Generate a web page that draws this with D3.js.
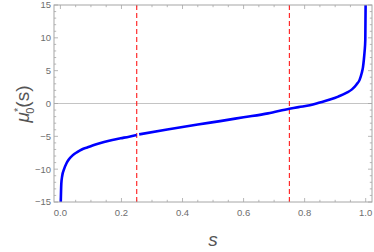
<!DOCTYPE html>
<meta charset="utf-8">
<script src="https://d3js.org/d3.v7.min.js"></script>
<style>
  body { margin:0; background:#fff; }
  text { font-family: "Liberation Sans", Arial, sans-serif; }
</style>
<div id="my_dataviz"></div>
<script>

  // curve, two pieces (small gap at s = 0.25)
  const sLeft  = [0.0012, 0.003, 0.006, 0.012, 0.02, 0.028, 0.04, 0.055, 0.07, 0.088, 0.115, 0.143, 0.17, 0.197, 0.225, 0.25];
  const muLeft = [-15, -12.2, -11, -10, -9.1, -8.5, -7.9, -7.4, -7.0, -6.7, -6.25, -5.86, -5.55, -5.3, -5.05, -4.8];
  const sRight  = [0.258, 0.35, 0.45, 0.523, 0.6, 0.68, 0.75, 0.78, 0.817, 0.85, 0.883, 0.91, 0.938, 0.955, 0.97, 0.98, 0.987, 0.991, 0.994, 0.9965, 0.9987, 0.9997];
  const muRight = [-4.7, -3.95, -3.2, -2.68, -2.1, -1.5, -0.8, -0.55, -0.27, 0.15, 0.6, 1.05, 1.65, 2.15, 2.9, 3.6, 4.65, 5.5, 6.7, 8.0, 9.7, 15];

  const dashedAt = [0.25, 0.75];
  const xTicks = [0, 0.2, 0.4, 0.6, 0.8, 1.0];
  const yTicks = [-15, -10, -5, 0, 5, 10, 15];

  const svgWidth = 374, svgHeight = 252;
  const frame = { left: 54, right: 372, top: 5, bottom: 202 };

  const x = d3.scaleLinear().domain([0, 1]).range([60.4, 365.7]);
  const y = d3.scaleLinear().domain([-15, 15]).range([frame.bottom, frame.top]);

  const svg = d3.select("#my_dataviz")
    .append("svg")
    .attr("width", svgWidth)
    .attr("height", svgHeight);

  svg.append("defs").append("clipPath").attr("id", "clip")
    .append("rect")
    .attr("x", frame.left).attr("y", frame.top)
    .attr("width", frame.right - frame.left)
    .attr("height", frame.bottom - frame.top);

  const frameColor = "#a6a6a6";
  const labelColor = "#6e6e6e";

  // zero line
  svg.append("line")
    .attr("x1", frame.left).attr("x2", frame.right)
    .attr("y1", y(0)).attr("y2", y(0))
    .attr("stroke", "#c4c4c4").attr("stroke-width", 1);

  // ticks on all four sides, pointing inward
  const xMinor = d3.range(0, 1.0001, 0.05);
  const yMinor = d3.range(-15, 15.001, 1);
  const tickG = svg.append("g").attr("stroke", frameColor).attr("stroke-width", 0.8);

  xMinor.forEach(function (v) {
    const major = xTicks.some(t => Math.abs(t - v) < 1e-6);
    const len = major ? 4 : 2.2;
    tickG.append("line").attr("x1", x(v)).attr("x2", x(v)).attr("y1", frame.bottom).attr("y2", frame.bottom - len);
    tickG.append("line").attr("x1", x(v)).attr("x2", x(v)).attr("y1", frame.top).attr("y2", frame.top + len);
  });
  yMinor.forEach(function (v) {
    const major = yTicks.some(t => Math.abs(t - v) < 1e-6);
    const len = major ? 4 : 2.2;
    tickG.append("line").attr("y1", y(v)).attr("y2", y(v)).attr("x1", frame.left).attr("x2", frame.left + len);
    tickG.append("line").attr("y1", y(v)).attr("y2", y(v)).attr("x1", frame.right).attr("x2", frame.right - len);
  });

  // red dashed verticals
  svg.selectAll(".vline")
    .data(dashedAt)
    .join("line")
    .attr("class", "vline")
    .attr("x1", d => x(d)).attr("x2", d => x(d))
    .attr("y1", frame.top).attr("y2", frame.bottom)
    .attr("stroke", "#ff1a1a")
    .attr("stroke-width", 1.1)
    .attr("stroke-dasharray", "5,3");

  // curve
  const line = d3.line()
    .x(d => x(d[0]))
    .y(d => y(d[1]))
    .curve(d3.curveMonotoneX);

  const pieces = [
    sLeft.map((s, i) => [s, muLeft[i]]),
    sRight.map((s, i) => [s, muRight[i]])
  ];

  svg.append("g").attr("clip-path", "url(#clip)")
    .selectAll("path")
    .data(pieces)
    .join("path")
    .attr("d", line)
    .attr("fill", "none")
    .attr("stroke", "#0000ff")
    .attr("stroke-width", 2.6);

  // frame
  svg.append("rect")
    .attr("x", frame.left).attr("y", frame.top)
    .attr("width", frame.right - frame.left)
    .attr("height", frame.bottom - frame.top)
    .attr("fill", "none")
    .attr("stroke", frameColor)
    .attr("stroke-width", 1);

  // tick labels
  svg.selectAll(".xlab")
    .data(xTicks)
    .join("text")
    .attr("class", "xlab")
    .attr("x", d => x(d))
    .attr("y", frame.bottom + 14)
    .attr("text-anchor", "middle")
    .attr("fill", labelColor)
    .style("font-size", "9.5px")
    .text(d => d3.format(".1f")(d));

  svg.selectAll(".ylab")
    .data(yTicks)
    .join("text")
    .attr("class", "ylab")
    .attr("x", frame.left - 3)
    .attr("y", d => y(d) + 3.4)
    .attr("text-anchor", "end")
    .attr("fill", labelColor)
    .style("font-size", "9.5px")
    .text(d => d < 0 ? "\u2212" + Math.abs(d) : d);

  // axis titles
  svg.append("text")
    .attr("x", 213)
    .attr("y", 246)
    .attr("text-anchor", "middle")
    .attr("fill", "#555")
    .style("font-size", "19px")
    .style("font-style", "italic")
    .text("s");

  const yt = svg.append("text")
    .attr("transform", "translate(29,104) rotate(-90)")
    .attr("text-anchor", "middle")
    .attr("fill", "#555")
    .style("font-size", "19px");
  yt.append("tspan").style("font-style", "italic").text("\u03bc");
  yt.append("tspan").attr("dy", -7).attr("dx", 0).style("font-size", "11px").text("*");
  yt.append("tspan").attr("dy", 12).attr("dx", -6).style("font-size", "11px").text("0");
  yt.append("tspan").attr("dy", -5).text("(s)");

</script>
